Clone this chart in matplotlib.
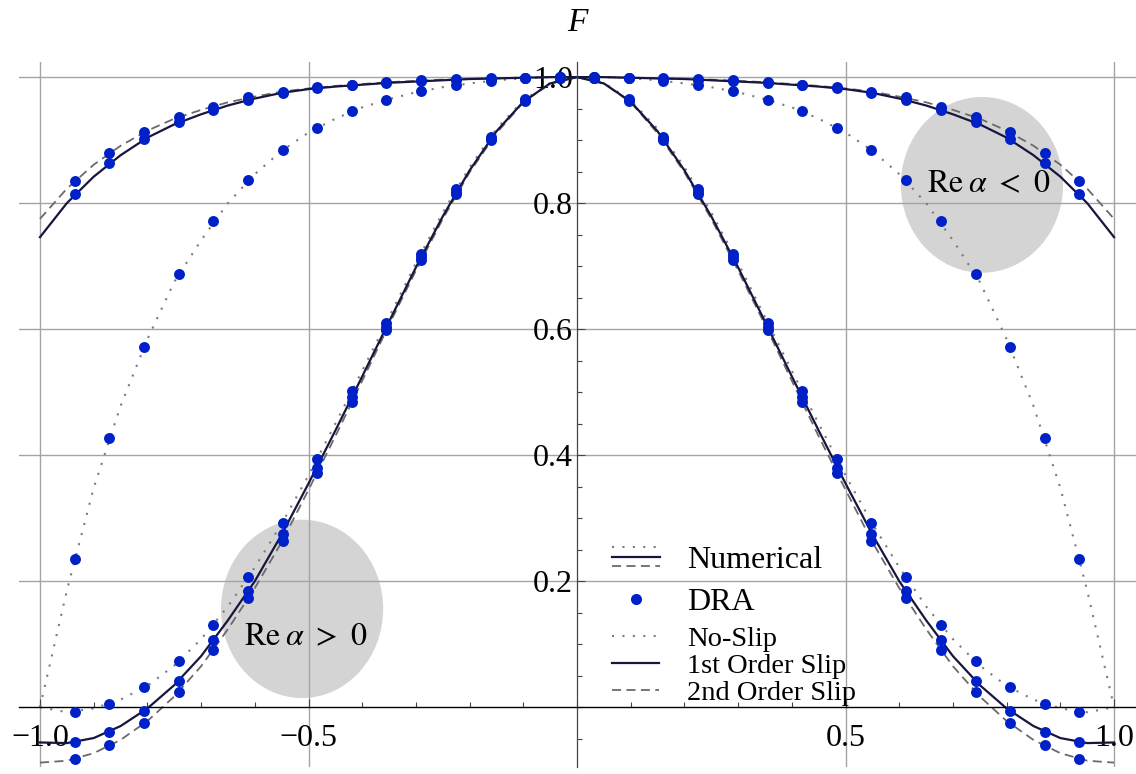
import numpy as np
import matplotlib.pyplot as plt
from matplotlib.patches import Ellipse
from matplotlib.lines import Line2D
from matplotlib.legend_handler import HandlerBase
from matplotlib.ticker import FixedLocator, MultipleLocator

plt.rcParams['font.family'] = ['Liberation Serif', 'DejaVu Serif']
plt.rcParams['mathtext.fontset'] = 'stix'

# DRA sample points (right half, the picture is symmetric in x)
x_dra = [0.032, 0.097, 0.161, 0.226, 0.290, 0.355, 0.419, 0.484,
         0.548, 0.613, 0.677, 0.742, 0.806, 0.871, 0.935]

# Re alpha > 0 (bell shaped profiles)
pos_noslip_dra = [0.999, 0.965, 0.905, 0.822, 0.720, 0.610, 0.502, 0.394,
                  0.293, 0.207, 0.130, 0.073, 0.032, 0.005, -0.008]
pos_first_dra = [0.998, 0.963, 0.902, 0.817, 0.714, 0.603, 0.492, 0.380,
                 0.275, 0.184, 0.106, 0.042, -0.006, -0.040, -0.056]
pos_second_dra = [0.998, 0.962, 0.900, 0.815, 0.710, 0.598, 0.484, 0.371,
                  0.263, 0.173, 0.090, 0.024, -0.025, -0.060, -0.083]

# Re alpha < 0 (flat profiles)
neg_noslip_dra = [1.000, 0.998, 0.994, 0.987, 0.978, 0.964, 0.946, 0.920,
                  0.884, 0.836, 0.772, 0.687, 0.572, 0.427, 0.235]
neg_first_dra = [1.000, 0.999, 0.997, 0.996, 0.994, 0.991, 0.987, 0.982,
                 0.975, 0.964, 0.948, 0.929, 0.902, 0.864, 0.814]
neg_second_dra = [1.000, 0.999, 0.998, 0.997, 0.995, 0.992, 0.988, 0.984,
                  0.977, 0.968, 0.953, 0.937, 0.913, 0.879, 0.835]

# Numerical curves, read at x = 0, 0.05, ..., 1.0 (right half)
x_num = [0.00, 0.05, 0.10, 0.15, 0.20, 0.25, 0.30, 0.35, 0.40, 0.45, 0.50,
         0.55, 0.60, 0.65, 0.70, 0.75, 0.80, 0.85, 0.90, 0.95, 1.00]
pos_noslip = [1.0, 0.991, 0.963, 0.918, 0.857, 0.785, 0.705, 0.619, 0.534, 0.450, 0.368,
              0.291, 0.222, 0.160, 0.108, 0.066, 0.034, 0.012, -0.002, -0.008, 0.0]
pos_first = [1.0, 0.990, 0.961, 0.914, 0.852, 0.779, 0.698, 0.612, 0.525, 0.439, 0.355,
             0.274, 0.200, 0.138, 0.081, 0.035, -0.002, -0.030, -0.049, -0.057, -0.056]
pos_second = [1.0, 0.990, 0.960, 0.911, 0.849, 0.775, 0.693, 0.607, 0.518, 0.430, 0.345,
              0.262, 0.189, 0.124, 0.065, 0.017, -0.022, -0.052, -0.073, -0.085, -0.088]
neg_noslip = [1.0, 1.0, 0.998, 0.995, 0.990, 0.984, 0.976, 0.965, 0.952, 0.934, 0.912,
              0.883, 0.846, 0.800, 0.741, 0.675, 0.584, 0.478, 0.348, 0.185, 0.0]
neg_first = [1.0, 1.0, 0.999, 0.998, 0.997, 0.995, 0.993, 0.991, 0.988, 0.985, 0.981,
             0.975, 0.966, 0.955, 0.941, 0.925, 0.904, 0.876, 0.842, 0.800, 0.746]
neg_second = [1.0, 1.0, 0.999, 0.998, 0.997, 0.996, 0.994, 0.992, 0.989, 0.986, 0.982,
              0.977, 0.969, 0.960, 0.948, 0.934, 0.915, 0.891, 0.861, 0.823, 0.775]


def mirror(x, y, skip_zero=False):
    x = np.asarray(x)
    y = np.asarray(y)
    s = 1 if skip_zero else 0
    return (np.concatenate([-x[s:][::-1], x]),
            np.concatenate([y[s:][::-1], y]))


NAVY = '#16163e'
DASH_C = '#6a6a6a'
DOT_C = '#7c7c7c'
BLUE = '#0020c8'
dotted = (0, (1.0, 4.0))
dashed = (0, (5.0, 3.0))

fig = plt.figure(figsize=(11.36, 7.74), dpi=100)
ax = fig.add_axes([0.0163, 0.009, 0.9833, 0.9109])
ax.set_xlim(-1.04, 1.04)
ax.set_ylim(-0.095, 1.024)

# grey highlight regions
ax.add_patch(Ellipse((-0.512, 0.156), 0.302, 0.283, color='#d4d4d4', lw=0, zorder=0.2))
ax.add_patch(Ellipse((0.754, 0.829), 0.302, 0.279, color='#d4d4d4', lw=0, zorder=0.2))
ax.text(-0.506, 0.110, r'$\mathrm{Re}\;\alpha\ >\ 0$', fontsize=23,
        ha='center', va='center', zorder=1)
ax.text(0.767, 0.829, r'$\mathrm{Re}\;\alpha\ <\ 0$', fontsize=23,
        ha='center', va='center', zorder=1)

# numerical curves
for ys, ls, col, lw in [(pos_noslip, dotted, DOT_C, 1.5), (neg_noslip, dotted, DOT_C, 1.5),
                        (pos_second, dashed, DASH_C, 1.3), (neg_second, dashed, DASH_C, 1.3),
                        (pos_first, '-', NAVY, 1.6), (neg_first, '-', NAVY, 1.6)]:
    xx, yy = mirror(x_num, ys, skip_zero=True)
    ax.plot(xx, yy, ls=ls, color=col, lw=lw, zorder=2)

# DRA points
for ys in [pos_noslip_dra, pos_first_dra, pos_second_dra,
           neg_noslip_dra, neg_first_dra, neg_second_dra]:
    xx, yy = mirror(x_dra, ys)
    ax.scatter(xx, yy, s=62, color=BLUE, lw=0, zorder=3)

# axes through the origin, Mathematica style
for side in ['top', 'right']:
    ax.spines[side].set_visible(False)
ax.spines['left'].set_position('zero')
ax.spines['bottom'].set_position('zero')
ax.spines['bottom'].set_color('black')
ax.spines['left'].set_color('#444444')
ax.spines['bottom'].set_linewidth(1.0)
ax.spines['left'].set_linewidth(0.9)

ax.xaxis.set_major_locator(FixedLocator([-1.0, -0.5, 0.5, 1.0]))
ax.xaxis.set_minor_locator(MultipleLocator(0.1))
ax.yaxis.set_major_locator(FixedLocator([0.2, 0.4, 0.6, 0.8, 1.0]))
ax.yaxis.set_minor_locator(MultipleLocator(0.05))
ax.set_xticklabels(['\u22121.0', '\u22120.5', '0.5', '1.0'])
ax.set_yticklabels(['0.2', '0.4', '0.6', '0.8', '1.0'])
ax.tick_params(which='both', direction='in', color='#444444', width=0.8)
ax.tick_params(which='major', length=6, labelsize=23)
ax.tick_params(which='minor', length=3.5)
ax.tick_params(axis='x', which='major', pad=12)
ax.tick_params(axis='y', which='major', pad=3)
ax.grid(True, which='major', color='#a4a4a4', lw=1.0)
ax.set_axisbelow(True)

ax.text(0.0, 1.087, 'F', fontsize=24, style='italic', ha='center', va='center',
        clip_on=False)


class StackHandler(HandlerBase):
    def create_artists(self, legend, orig_handle, xdescent, ydescent, width, height,
                       fontsize, trans):
        arts = []
        yc = height / 2 - ydescent
        for off, ls, col, lw in [(0.45, dotted, DOT_C, 1.5), (0.0, '-', NAVY, 1.6),
                                 (-0.4, dashed, DASH_C, 1.3)]:
            l = Line2D([-xdescent, -xdescent + width], [yc + off * height] * 2,
                       ls=ls, color=col, lw=lw, transform=trans)
            arts.append(l)
        return arts


num_handle = Line2D([], [])
leg1 = ax.legend([num_handle,
                  Line2D([], [], ls='none', marker='o', ms=8, color=BLUE, mew=0)],
                 ['Numerical', 'DRA'], handler_map={num_handle: StackHandler()},
                 loc='upper left', bbox_to_anchor=(0.531, 0.314), frameon=False,
                 fontsize=23, handlelength=1.5, handletextpad=0.87,
                 borderpad=0, borderaxespad=0, labelspacing=0.39)
ax.add_artist(leg1)
ax.legend([Line2D([], [], ls=dotted, color=DOT_C, lw=1.5),
           Line2D([], [], ls='-', color=NAVY, lw=1.6),
           Line2D([], [], ls=dashed, color=DASH_C, lw=1.3)],
          ['No-Slip', '1st Order Slip', '2nd Order Slip'],
          loc='upper left', bbox_to_anchor=(0.531, 0.200), frameon=False,
          fontsize=20.5, handlelength=1.68, handletextpad=0.98,
          borderpad=0, borderaxespad=0, labelspacing=0.04)

fig.savefig('out.png', dpi=100)
